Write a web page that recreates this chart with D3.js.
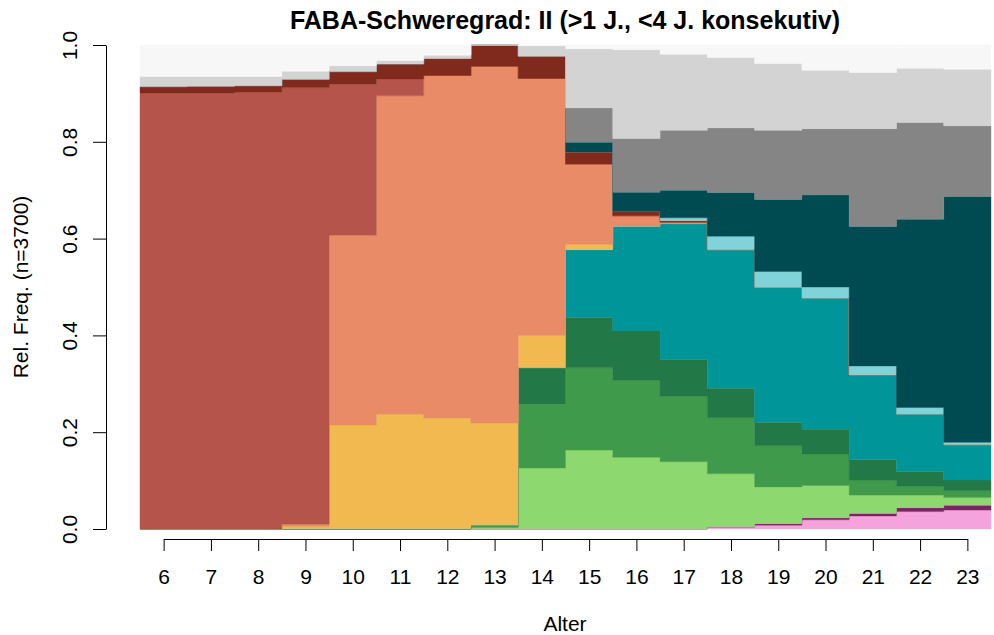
<!DOCTYPE html>
<html>
<head>
<meta charset="utf-8">
<script src="https://cdn.jsdelivr.net/npm/d3@7"></script>
<style>
  body { margin: 0; background: #fff; }
  svg { display: block; font-family: "Liberation Sans", Arial, sans-serif; }
</style>
</head>
<body>
<div class="viz"></div>
<script>
// ages on the x axis
const ages = [6, 7, 8, 9, 10, 11, 12, 13, 14, 15, 16, 17, 18, 19, 20, 21, 22, 23];

// relative frequencies per category, bottom of the stack first
const pink       = [0, 0, 0, 0, 0, 0, 0, 0, 0, 0, 0, 0, 0.004, 0.008, 0.019, 0.027, 0.036, 0.039];
const purple     = [0, 0, 0, 0, 0, 0, 0, 0, 0, 0, 0, 0, 0, 0.003, 0.004, 0.005, 0.008, 0.010];
const lightgreen = [0, 0, 0, 0, 0, 0, 0, 0.003, 0.126, 0.163, 0.148, 0.139, 0.110, 0.076, 0.067, 0.038, 0.026, 0.016];
const green      = [0, 0, 0, 0, 0, 0, 0, 0.005, 0.132, 0.170, 0.159, 0.135, 0.116, 0.085, 0.065, 0.031, 0.018, 0.014];
const darkgreen  = [0, 0, 0, 0, 0, 0, 0, 0, 0.075, 0.104, 0.102, 0.076, 0.061, 0.048, 0.051, 0.042, 0.031, 0.022];
const teal       = [0, 0, 0, 0, 0, 0, 0, 0, 0, 0.140, 0.216, 0.281, 0.286, 0.279, 0.271, 0.175, 0.118, 0.073];
const yellow     = [0, 0, 0, 0.005, 0.215, 0.237, 0.229, 0.211, 0.067, 0.011, 0, 0, 0, 0, 0, 0, 0, 0];
const salmon     = [0, 0, 0, 0.005, 0.392, 0.658, 0.708, 0.737, 0.531, 0.166, 0.022, 0.003, 0, 0, 0, 0, 0, 0];
const red        = [0.901, 0.901, 0.903, 0.902, 0.312, 0.035, 0, 0, 0, 0, 0, 0, 0, 0, 0, 0, 0, 0];
const brown      = [0.013, 0.014, 0.013, 0.017, 0.026, 0.031, 0.035, 0.044, 0.046, 0.025, 0.009, 0.003, 0, 0, 0, 0, 0, 0];
const lightcyan  = [0, 0, 0, 0, 0, 0, 0, 0, 0, 0, 0, 0.006, 0.028, 0.033, 0.023, 0.019, 0.014, 0.005];
const darkteal   = [0, 0, 0, 0, 0, 0, 0, 0, 0, 0.020, 0.040, 0.057, 0.090, 0.149, 0.190, 0.288, 0.389, 0.508];
const gray       = [0, 0, 0, 0, 0, 0, 0, 0, 0, 0.071, 0.111, 0.124, 0.134, 0.143, 0.137, 0.202, 0.200, 0.146];
const lightgray  = [0.021, 0.020, 0.019, 0.017, 0.012, 0.007, 0.007, 0, 0.021, 0.122, 0.183, 0.157, 0.145, 0.138, 0.121, 0.116, 0.112, 0.117];
const lightest   = [0.065, 0.065, 0.065, 0.054, 0.043, 0.032, 0.021, 0, 0.002, 0.008, 0.010, 0.019, 0.026, 0.038, 0.052, 0.057, 0.048, 0.050];

const seriesNames = ["pink", "purple", "lightgreen", "green", "darkgreen", "teal", "yellow", "salmon",
                     "red", "brown", "lightcyan", "darkteal", "gray", "lightgray", "lightest"];
const seriesValues = [pink, purple, lightgreen, green, darkgreen, teal, yellow, salmon,
                      red, brown, lightcyan, darkteal, gray, lightgray, lightest];
const seriesColors = ["#f5a3dc", "#7b2462", "#8ed870", "#3f9b4b", "#227846", "#009599", "#f2b950", "#e98b67",
                      "#b5544a", "#7f2a1d", "#80d4d9", "#004a51", "#858585", "#d3d3d3", "#f7f7f7"];

const yTicks = [0, 0.2, 0.4, 0.6, 0.8, 1.0];

const width = 994;
const height = 635;

const svg = d3.select(".viz")
    .append("svg")
    .attr("width", width)
    .attr("height", height);

const x = d3.scaleLinear().domain([5.5, 23.5]).range([140, 991]);
const y = d3.scaleLinear().domain([0, 1]).range([529, 45]);

// table for d3.stack: one row per age
const table = ages.map((a, i) => {
    const row = { age: a };
    seriesNames.forEach((k, j) => { row[k] = seriesValues[j][i]; });
    return row;
});

const stacked = d3.stack().keys(seriesNames)(table);

// step area: each age spans [age-0.5, age+0.5]
const area = d3.area()
    .curve(d3.curveStepAfter)
    .x(d => x(d.xv))
    .y0(d => y(d.y0))
    .y1(d => y(d.y1));

svg.append("g")
    .selectAll("path")
    .data(stacked)
    .enter()
    .append("path")
    .attr("d", layer => {
        const pts = layer.map(d => ({ xv: d.data.age - 0.5, y0: d[0], y1: d[1] }));
        const last = layer[layer.length - 1];
        pts.push({ xv: last.data.age + 0.5, y0: last[0], y1: last[1] });
        return area(pts);
    })
    .style("fill", (d, i) => seriesColors[i])
    .style("stroke", (d, i) => seriesColors[i])
    .style("stroke-width", 0.4);

// x axis (R style: line from first to last tick)
const xAxis = svg.append("g")
    .attr("transform", "translate(0,539)")
    .call(d3.axisBottom(x).tickValues(ages).tickSize(12).tickSizeOuter(0).tickFormat(d3.format("d")));
xAxis.select(".domain").remove();
xAxis.append("line")
    .attr("x1", x(6) + 0.5).attr("x2", x(23) + 0.5)
    .attr("y1", 0.5).attr("y2", 0.5)
    .attr("stroke", "#000");
xAxis.selectAll(".tick line").attr("stroke", "#000");
xAxis.selectAll(".tick text")
    .attr("y", 45)
    .attr("dy", 0)
    .style("font-size", "21px")
    .style("fill", "#000");

// y axis
const yAxis = svg.append("g")
    .attr("transform", "translate(106,0)")
    .call(d3.axisLeft(y).tickValues(yTicks).tickSize(13).tickSizeOuter(0).tickFormat(d3.format(".1f")));
yAxis.select(".domain").attr("stroke", "#000");
yAxis.selectAll(".tick line").attr("stroke", "#000");
yAxis.selectAll(".tick text")
    .attr("x", 0)
    .attr("dy", 0)
    .attr("text-anchor", "middle")
    .attr("transform", "translate(-29.5,0) rotate(-90)")
    .style("font-size", "21px")
    .style("fill", "#000");

// title and axis labels
svg.append("text")
    .attr("x", 565)
    .attr("y", 29)
    .attr("text-anchor", "middle")
    .style("font-size", "25px")
    .style("font-weight", "bold")
    .text("FABA-Schweregrad: II (>1 J., <4 J. konsekutiv)");

svg.append("text")
    .attr("x", 565)
    .attr("y", 631)
    .attr("text-anchor", "middle")
    .style("font-size", "21px")
    .text("Alter");

svg.append("text")
    .attr("transform", "translate(27.5,287) rotate(-90)")
    .attr("text-anchor", "middle")
    .style("font-size", "21px")
    .text("Rel. Freq. (n=3700)");
</script>
</body>
</html>
